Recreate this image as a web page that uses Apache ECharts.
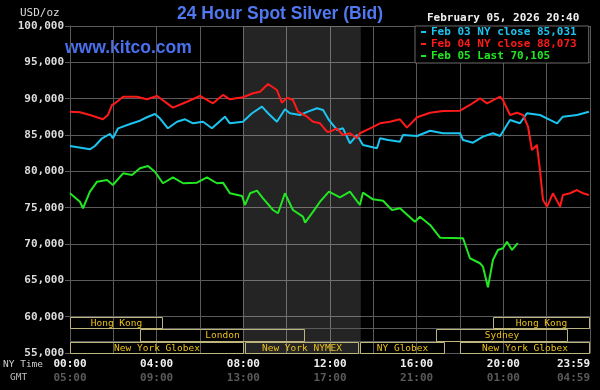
<!DOCTYPE html>
<html><head><meta charset="utf-8">
<script src="https://cdn.jsdelivr.net/npm/echarts@6/dist/echarts.min.js"></script>
<style>html,body{margin:0;padding:0;background:#000}#c{width:600px;height:390px}</style>
</head><body><div id="c"></div>
<script>
// ---- data (hours NY time, USD/oz) ----
const seriesNames = ['Feb 03 NY close 85,031', 'Feb 04 NY close 88,073', 'Feb 05 Last 70,105'];
const seriesColors = ['#1cc4f0', '#ff1a1a', '#22e622'];
const feb03 = [[0,83490],[0.92,83030],[1.15,83490],[1.48,84550],[1.85,85140],[1.98,84550],[2.22,85920],[2.77,86520],[3.23,86970],[3.55,87440],[3.92,87890],[4.15,87300],[4.52,85920],[4.94,86830],[5.31,87160],[5.68,86610],[6.14,86830],[6.55,85920],[7.15,87520],[7.38,86610],[7.98,86830],[8.4,87990],[8.86,88900],[9.14,87990],[9.55,86830],[9.92,88540],[10.15,87990],[10.62,87750],[10.98,88210],[11.4,88680],[11.68,88440],[11.95,87070],[12.32,85690],[12.6,85920],[12.92,83860],[13.25,85000],[13.52,83630],[14.17,83170],[14.31,84550],[14.68,84310],[15.23,84080],[15.37,85000],[16.02,84860],[16.62,85590],[17.22,85240],[18.0,85240],[18.14,84310],[18.6,83940],[19.06,84770],[19.52,85240],[19.85,84860],[20.31,87070],[20.77,86610],[21.09,87990],[21.69,87750],[22.15,87070],[22.48,86610],[22.75,87520],[23.4,87750],[23.95,88210]];
const feb04 = [[0,88210],[0.46,88130],[0.92,87750],[1.52,87160],[1.75,87750],[1.94,89130],[2.08,89360],[2.45,90270],[3.09,90270],[3.55,89910],[4.02,90370],[4.75,88760],[5.4,89580],[6.0,90370],[6.6,89360],[7.06,90510],[7.38,89910],[7.98,90190],[8.45,90740],[8.77,90960],[9.14,92020],[9.55,91190],[9.78,89450],[10.02,90130],[10.29,89820],[10.52,88210],[10.94,87520],[11.22,86830],[11.54,86610],[11.86,85460],[12.0,85460],[12.32,85920],[12.6,85000],[12.92,85240],[13.25,84550],[13.38,85240],[13.85,85920],[14.31,86610],[14.77,86830],[15.23,87160],[15.55,86010],[16.02,87440],[16.62,88070],[17.22,88300],[18.0,88350],[18.46,89130],[18.92,90050],[19.25,89360],[19.85,90270],[19.98,89820],[20.31,87750],[20.63,88070],[20.91,87750],[21.14,86140],[21.32,82940],[21.55,83630],[21.69,80190],[21.83,76060],[22.02,75140],[22.29,76980],[22.62,75140],[22.75,76750],[23.08,76980],[23.4,77430],[23.68,76980],[23.95,76750]];
const feb05 = [[0,76980],[0.46,75820],[0.6,74920],[0.92,77200],[1.25,78580],[1.71,78810],[1.98,78120],[2.45,79730],[2.86,79500],[3.23,80420],[3.6,80740],[3.92,79950],[4.29,78360],[4.75,79180],[5.22,78360],[5.86,78440],[6.32,79180],[6.78,78360],[7.06,78440],[7.38,76980],[7.94,76610],[8.08,75370],[8.31,76980],[8.63,77340],[8.91,76290],[9.37,74680],[9.6,74230],[9.92,76980],[10.29,74680],[10.75,73760],[10.85,72930],[11.22,74450],[11.54,75820],[11.95,77200],[12.46,76430],[12.92,77200],[13.38,75370],[13.52,77060],[13.98,76150],[14.45,75960],[14.86,74680],[15.23,74920],[15.92,73070],[16.15,73760],[16.62,72620],[17.08,70870],[18.14,70790],[18.46,68040],[18.92,67350],[19.06,66880],[19.29,64050],[19.52,67800],[19.75,69180],[19.98,69410],[20.17,70320],[20.4,69180],[20.67,70110]];
const nyTimeLabels = {0:'00:00', 4:'04:00', 8:'08:00', 12:'12:00', 16:'16:00', 20:'20:00', 24:'23:59'};
const gmtTimeLabels = {0:'05:00', 4:'09:00', 8:'13:00', 12:'17:00', 16:'21:00', 20:'01:00', 24:'04:59'};
const sessionNames = ['Hong Kong', 'London', 'New York Globex', 'New York NYMEX', 'NY Globex', 'New York Globex', 'Hong Kong', 'Sydney'];
const sessionStart = [0, 3.25, 0, 8.08, 13.38, 18.0, 19.5, 16.9];
const sessionEnd   = [4.25, 10.8, 8.0, 13.3, 17.26, 23.95, 23.95, 22.94];
const sessionRow   = [0, 1, 2, 2, 2, 2, 0, 1];
const comexWindow = [8.0, 13.42];
const titleText = '24 Hour Spot Silver (Bid)';
const dateText = 'February 05, 2026 20:40';

// row bands (price units of the session strip under 60,000)
const rowTop = [60000, 58350, 56500];
const rowBot = [58500, 56700, 55000];

const MONO = '"DejaVu Sans Mono", monospace';
const GRID = '#5a5a5a';

const chart = echarts.init(document.getElementById('c'), null, {renderer: 'canvas'});

const sessionData = sessionNames.map((n, i) => [sessionStart[i], sessionEnd[i], sessionRow[i], n]);

const option = {
  animation: false,
  backgroundColor: '#000',
  grid: {left: 70, right: 10, top: 26, bottom: 37, outerBoundsMode: 'none'},
  xAxis: {
    type: 'value', min: 0, max: 24, interval: 2,
    axisLine: {show: true, lineStyle: {color: GRID}},
    axisTick: {show: false},
    splitLine: {show: true, lineStyle: {color: GRID, width: 1}},
    axisLabel: {
      margin: 4, alignMaxLabel: 'right', hideOverlap: false,
      formatter: v => nyTimeLabels[v] !== undefined ? '{a|' + nyTimeLabels[v] + '}\n{b|' + gmtTimeLabels[v] + '}' : '',
      rich: {
        a: {color: '#f0f0f0', fontFamily: MONO, fontSize: 11, fontWeight: 'bold', lineHeight: 14},
        b: {color: '#5a5a5a', fontFamily: MONO, fontSize: 11, fontWeight: 'bold', lineHeight: 14}
      }
    }
  },
  yAxis: {
    type: 'value', min: 55000, max: 100000, interval: 5000,
    axisLine: {show: true, lineStyle: {color: GRID}},
    axisTick: {show: true, length: 5, lineStyle: {color: GRID}},
    splitLine: {show: true, lineStyle: {color: GRID, width: 1}},
    axisLabel: {
      margin: 6, color: '#dcdcdc', fontFamily: MONO, fontSize: 11, fontWeight: 'bold',
      formatter: v => v.toLocaleString('en-US')
    }
  },
  legend: {
    orient: 'vertical', left: 415, top: 26,
    backgroundColor: '#000', borderColor: '#6a6a6a', borderWidth: 1,
    padding: [0, 12, 1, 6], itemGap: 0, itemWidth: 5, itemHeight: 2, itemTextGap: 4,
    icon: 'rect', selectedMode: false,
    textStyle: {fontFamily: MONO, fontSize: 11, fontWeight: 'bold', lineHeight: 12},
    data: seriesNames.map((n, i) => ({name: n, itemStyle: {color: seriesColors[i]}, textStyle: {color: seriesColors[i]}}))
  },
  graphic: [
    {type: 'text', x: 177, y: 14.5, style: {text: titleText, fill: '#5078f0', font: 'bold 17.5px "Liberation Sans", Arial', textVerticalAlign: 'middle'}},
    {type: 'text', x: 65, y: 48, style: {text: 'www.kitco.com', fill: '#4a70ee', font: 'bold 17.5px "Liberation Sans", Arial', textVerticalAlign: 'middle'}},
    {type: 'text', x: 20, y: 13, style: {text: 'USD/oz', fill: '#dcdcdc', font: '11px ' + MONO, textVerticalAlign: 'middle'}},
    {type: 'text', x: 427, y: 18.5, style: {text: dateText, fill: '#f0f0f0', font: 'bold 11px ' + MONO, textVerticalAlign: 'middle'}},
    {type: 'text', x: 3, y: 365, style: {text: 'NY Time', fill: '#cfcfcf', font: '9.5px ' + MONO, textVerticalAlign: 'middle'}},
    {type: 'text', x: 10, y: 378, style: {text: 'GMT', fill: '#bdbdbd', font: '9.5px ' + MONO, textVerticalAlign: 'middle'}}
  ],
  series: [
    {
      name: seriesNames[0], type: 'line', data: feb03, showSymbol: false, z: 3,
      lineStyle: {color: seriesColors[0], width: 2}, itemStyle: {color: seriesColors[0]},
      markArea: {silent: true, itemStyle: {color: 'rgba(255,255,255,0.14)'}, data: [[{xAxis: comexWindow[0]}, {xAxis: comexWindow[1]}]]},
      markLine: {silent: true, symbol: 'none', label: {show: false}, lineStyle: {color: GRID, type: 'solid', width: 1},
        data: [{yAxis: (rowBot[0] + rowTop[1]) / 2}, {yAxis: (rowBot[1] + rowTop[2]) / 2}]}
    },
    {name: seriesNames[1], type: 'line', data: feb04, showSymbol: false, z: 4,
      lineStyle: {color: seriesColors[1], width: 2}, itemStyle: {color: seriesColors[1]}},
    {name: seriesNames[2], type: 'line', data: feb05, showSymbol: false, z: 5,
      lineStyle: {color: seriesColors[2], width: 2}, itemStyle: {color: seriesColors[2]}},
    {
      type: 'custom', silent: true, z: 6,
      data: sessionData,
      encode: {x: [0, 1]},
      renderItem: (params, api) => {
        const r = api.value(2);
        const p1 = api.coord([api.value(0), rowTop[r]]);
        const p2 = api.coord([api.value(1), rowBot[r]]);
        const x = Math.round(p1[0]) + 0.5, y = Math.round(p1[1]) + 0.5;
        const w = Math.round(p2[0] - p1[0]), h = Math.round(p2[1] - p1[1]);
        return {
          type: 'group',
          children: [
            {type: 'rect', shape: {x: x, y: y, width: w, height: h}, style: {fill: 'none', stroke: '#bdb57c', lineWidth: 1}},
            {type: 'text', x: x + w / 2, y: y + h / 2 + 0.5, style: {text: sessionNames[params.dataIndex], fill: '#ecc21a', font: '9.5px ' + MONO, textAlign: 'center', textVerticalAlign: 'middle'}}
          ]
        };
      }
    }
  ]
};
chart.setOption(option);
</script>
</body></html>
